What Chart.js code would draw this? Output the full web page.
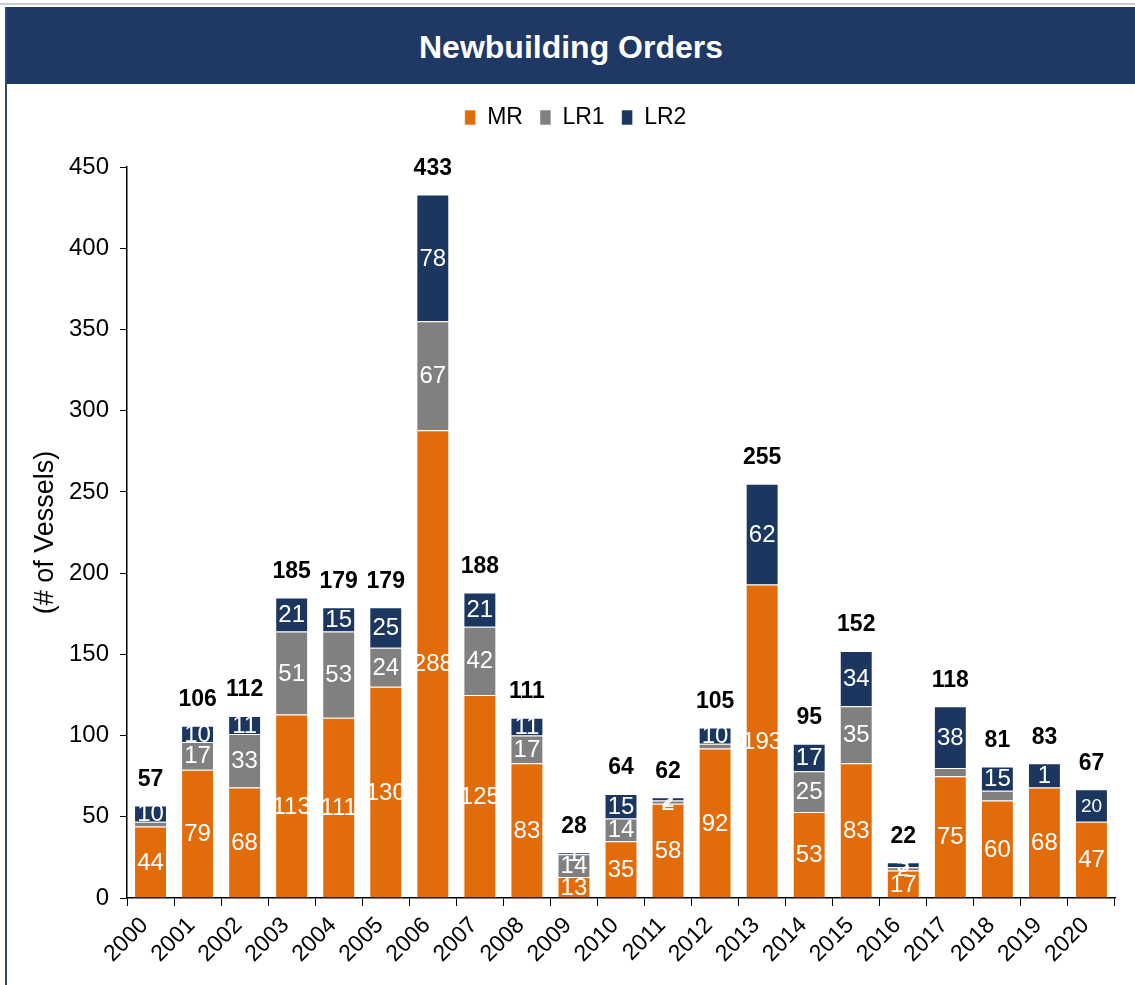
<!DOCTYPE html>
<html>
<head>
<meta charset="utf-8">
<title>Newbuilding Orders</title>
<script src="https://cdn.jsdelivr.net/npm/chart.js@4"></script>
<style>
  body { margin: 0; background: #fff; font-family: "Liberation Sans", Arial, sans-serif; }
  #topline { position: absolute; left: 0; top: 3px; width: 1135px; height: 2px; background: #c9cdd8; }
  #header {
    position: absolute; left: 7px; top: 7px; width: 1128px; height: 77px;
    background: #203864; color: #fff; font-weight: bold; font-size: 32px;
    text-align: center; line-height: 80px;
  }
  #leftline { position: absolute; left: 5px; top: 7px; width: 2px; height: 978px; background: #2b4776; }
  #wrap { position: absolute; left: 8px; top: 84px; width: 1127px; height: 901px; }
</style>
</head>
<body>
<div id="topline"></div>
<div id="header">Newbuilding Orders</div>
<div id="leftline"></div>
<div id="wrap"><canvas id="ordersChart"></canvas></div>
<script>
const years = ['2000', '2001', '2002', '2003', '2004', '2005', '2006', '2007', '2008', '2009', '2010',
               '2011', '2012', '2013', '2014', '2015', '2016', '2017', '2018', '2019', '2020'];
const mr  = [44, 79, 68, 113, 111, 130, 288, 125, 83, 13, 35, 58, 92, 193, 53, 83, 17, 75, 60, 68, 47];
const lr1 = [3, 17, 33, 51, 53, 24, 67, 42, 17, 14, 14, 2, 3, 0, 25, 35, 2, 5, 6, 0, 0];
const lr2 = [10, 10, 11, 21, 15, 25, 78, 21, 11, 1, 15, 2, 10, 62, 17, 34, 3, 38, 15, 15, 20];

// labels as printed on the segments ('' = not shown)
const mrLabels  = mr.map(String);
const lr1Labels = ['', '17', '33', '51', '53', '24', '67', '42', '17', '14', '14', '2', '', '', '25', '35', '2', '', '', '', ''];
const lr2Labels = ['10', '10', '11', '21', '15', '25', '78', '21', '11', '1', '15', '2', '10', '62', '17', '34', '3', '38', '15', '1', '20'];

const FONT = '"Liberation Sans", Arial, sans-serif';

const segmentLabels = {
    id: 'segmentLabels',
    afterDatasetsDraw(chart) {
        const ctx = chart.ctx;
        const sets = [mrLabels, lr1Labels, lr2Labels];
        ctx.save();
        ctx.textAlign = 'center';
        ctx.textBaseline = 'middle';
        ctx.fillStyle = '#fff';
        chart.data.datasets.forEach(function (ds, i) {
            chart.getDatasetMeta(i).data.forEach(function (bar, j) {
                const txt = sets[i][j];
                if (!txt) return;
                const size = (i === 2 && years[j] === '2020') ? 19 : 24;
                ctx.font = size + 'px ' + FONT;
                ctx.fillText(txt, bar.x, (bar.y + bar.base) / 2 + 1);
            });
        });

        // totals above each stack
        ctx.fillStyle = '#000';
        ctx.font = 'bold 23px ' + FONT;
        const top = chart.getDatasetMeta(2).data;
        years.forEach(function (y, j) {
            const total = mr[j] + lr1[j] + lr2[j];
            const py = chart.scales.y.getPixelForValue(total);
            ctx.fillText(String(total), top[j].x, py - 26);
        });
        ctx.restore();
    }
};

// legend sits higher (and a bit to the right) than the layout would put it
const legendShift = {
    id: 'legendShift',
    afterLayout(chart) {
        const l = chart.legend;
        l.top -= 28; l.bottom -= 28;
        l.left += 14; l.right += 14;
    }
};

const ctx = document.getElementById('ordersChart').getContext('2d');
const ordersChart = new Chart(ctx, {
    type: 'bar',
    data: {
        labels: years,
        datasets: [
            { label: 'MR',  data: mr,  backgroundColor: '#e36c0a', borderColor: 'rgba(255,255,255,0.55)', borderWidth: 1 },
            { label: 'LR1', data: lr1, backgroundColor: '#808080', borderColor: 'rgba(255,255,255,0.55)', borderWidth: 1 },
            { label: 'LR2', data: lr2, backgroundColor: '#1b375f', borderColor: 'rgba(255,255,255,0.55)', borderWidth: 1 }
        ]
    },
    options: {
        responsive: true,
        maintainAspectRatio: false,
        animation: false,
        datasets: { bar: { barPercentage: 0.7, categoryPercentage: 1.0 } },
        layout: { padding: { top: 5, right: 20, left: 0, bottom: 0 } },
        plugins: {
            legend: {
                position: 'top',
                labels: {
                    boxWidth: 11,
                    boxHeight: 15,
                    color: '#000',
                    padding: 17,
                    font: { size: 23, family: FONT }
                }
            },
            tooltip: { enabled: false }
        },
        scales: {
            x: {
                stacked: true,
                grid: { drawOnChartArea: false, color: '#000', tickLength: 8, offset: true },
                border: { color: '#000', width: 1.5 },
                ticks: {
                    color: '#000', font: { size: 23, family: FONT },
                    minRotation: 45, maxRotation: 45, padding: 6, labelOffset: -6
                },
                afterFit: function (scale) { scale.height = 87; }
            },
            y: {
                stacked: true,
                min: 0,
                max: 450,
                ticks: { stepSize: 50, color: '#000', font: { size: 24, family: FONT }, padding: 11 },
                grid: { drawOnChartArea: false, color: '#000', tickLength: 7 },
                border: { color: '#000', width: 1.5 },
                title: {
                    display: true,
                    text: '(# of Vessels)',
                    color: '#000',
                    font: { size: 27, family: FONT },
                    padding: { top: 21, bottom: 0 }
                },
                afterFit: function (scale) {
                    scale.width = 119;
                    scale.paddingTop = 83;
                }
            }
        }
    },
    plugins: [segmentLabels, legendShift]
});
</script>
</body>
</html>
